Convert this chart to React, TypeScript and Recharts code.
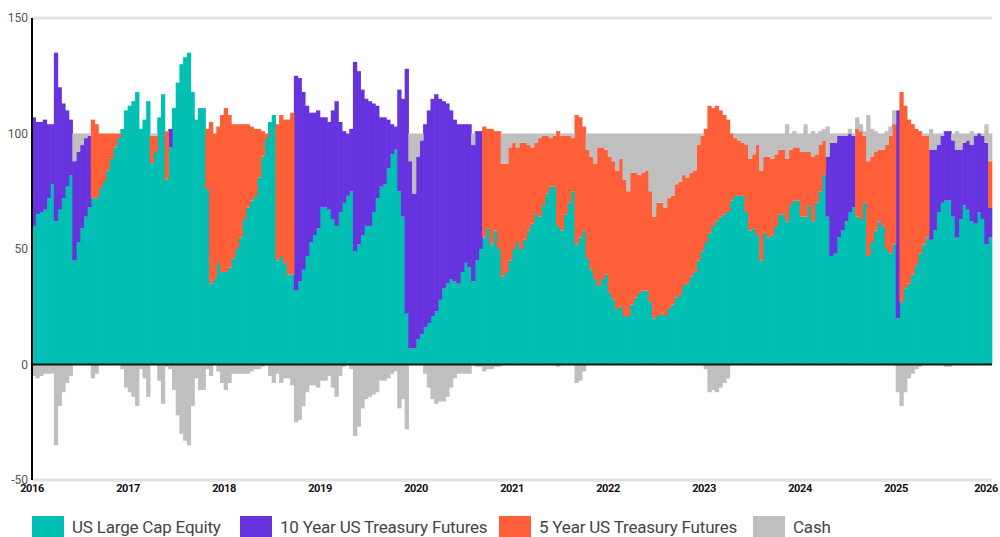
import { BarChart, Bar, XAxis, YAxis, ReferenceLine } from 'recharts'

// two-weekly allocation snapshots, 26 per year, 2016 -> 2025
const startYear = 2016
const periodsPerYear = 26

const equity = [
  60, 65, 66, 67, 72, 78, 62, 67, 72, 77, 82, 45, 53, 59, 64, 68, 72, 72, 76, 79, 84, 89, 94, 98, 102, 110, // 2016
  112, 114, 118, 102, 106, 114, 87, 92, 107, 117, 80, 94, 111, 122, 130, 133, 135, 118, 106, 111, 111, 76, 35, 37, 44, 40, // 2017
  40, 42, 46, 50, 55, 63, 68, 71, 73, 81, 90, 98, 105, 108, 45, 47, 44, 39, 39, 32, 36, 41, 47, 53, 56, 59, // 2018
  68, 68, 67, 63, 60, 66, 70, 73, 75, 49, 52, 56, 60, 60, 66, 72, 77, 78, 85, 91, 93, 75, 64, 22, 7, 7, // 2019
  11, 13, 16, 18, 21, 23, 28, 33, 35, 37, 36, 35, 40, 44, 42, 36, 45, 50, 55, 59, 52, 58, 50, 38, 40, 45, // 2020
  50, 53, 50, 54, 58, 61, 65, 64, 69, 74, 77, 77, 60, 58, 65, 70, 75, 52, 55, 58, 46, 41, 37, 34, 37, 39, // 2021
  31, 28, 24, 25, 21, 21, 26, 29, 31, 32, 32, 27, 20, 21, 22, 21, 24, 26, 29, 30, 34, 35, 38, 40, 45, 49, // 2022
  53, 57, 60, 62, 64, 65, 66, 71, 73, 73, 73, 66, 58, 59, 56, 45, 57, 55, 56, 60, 65, 65, 62, 69, 71, 71, // 2023
  64, 64, 69, 62, 70, 75, 82, 64, 47, 48, 55, 58, 62, 66, 68, 64, 63, 70, 47, 53, 58, 62, 60, 50, 48, 52, // 2024
  20, 27, 33, 35, 39, 43, 48, 52, 55, 54, 58, 66, 70, 71, 71, 64, 55, 63, 69, 67, 62, 61, 66, 63, 52, 55, // 2025
]

const tenYear = [
  47, 40, 39, 39, 32, 26, 73, 53, 41, 33, 24, 43, 39, 36, 34, 31, 0, 0, 0, 0, 0, 0, 0, 0, 0, 0,
  0, 0, 0, 0, 0, 0, 0, 0, 0, 0, 0, 8, 0, 0, 0, 0, 0, 0, 0, 0, 0, 0, 0, 0, 0, 0,
  0, 0, 0, 0, 0, 0, 0, 0, 0, 0, 0, 0, 0, 0, 0, 0, 0, 0, 0, 93, 88, 77, 65, 56, 53, 51,
  39, 39, 38, 47, 54, 39, 31, 27, 27, 82, 75, 63, 55, 54, 47, 40, 30, 29, 21, 13, 10, 44, 51, 106, 81, 67,
  79, 84, 88, 92, 94, 94, 87, 81, 78, 73, 70, 69, 64, 60, 62, 59, 56, 51, 0, 0, 0, 0, 0, 0, 0, 0,
  0, 0, 0, 0, 0, 0, 0, 0, 0, 0, 0, 0, 0, 0, 0, 0, 0, 0, 0, 0, 0, 0, 0, 0, 0, 0,
  0, 0, 0, 0, 0, 0, 0, 0, 0, 0, 0, 0, 0, 0, 0, 0, 0, 0, 0, 0, 0, 0, 0, 0, 0, 0,
  0, 0, 0, 0, 0, 0, 0, 0, 0, 0, 0, 0, 0, 0, 0, 0, 0, 0, 0, 0, 0, 0, 0, 0, 0, 0,
  0, 0, 0, 0, 0, 0, 0, 26, 49, 48, 44, 41, 37, 34, 31, 0, 0, 0, 0, 0, 0, 0, 0, 0, 0, 0,
  90, 0, 0, 0, 0, 0, 0, 0, 0, 39, 35, 29, 29, 30, 30, 33, 38, 30, 27, 30, 33, 38, 34, 36, 44, 13,
]

const fiveYear = [
  0, 0, 0, 0, 0, 0, 0, 0, 0, 0, 0, 0, 0, 0, 0, 0, 34, 32, 24, 21, 16, 11, 6, 2, 0, 0,
  0, 0, 0, 0, 0, 0, 12, 7, 0, 0, 21, 0, 0, 0, 0, 0, 0, 0, 0, 0, 0, 26, 70, 63, 59, 68,
  71, 66, 58, 54, 49, 41, 36, 32, 29, 21, 11, 2, 0, 0, 59, 61, 62, 67, 70, 0, 0, 0, 0, 0, 0, 0,
  0, 0, 0, 0, 0, 0, 0, 0, 0, 0, 0, 0, 0, 0, 0, 0, 0, 0, 0, 0, 0, 0, 0, 0, 0, 0,
  0, 0, 0, 0, 0, 0, 0, 0, 0, 0, 0, 0, 0, 0, 0, 0, 0, 0, 48, 43, 50, 43, 51, 49, 47, 49,
  46, 41, 46, 42, 37, 33, 31, 34, 30, 25, 21, 22, 41, 41, 34, 29, 23, 56, 52, 45, 47, 49, 50, 60, 57, 54,
  59, 60, 60, 64, 59, 54, 57, 54, 51, 51, 52, 48, 44, 49, 48, 47, 48, 47, 49, 49, 48, 46, 45, 44, 50, 50,
  49, 55, 51, 50, 46, 43, 40, 29, 25, 24, 23, 29, 31, 32, 39, 39, 33, 35, 33, 31, 28, 28, 27, 24, 23, 23,
  28, 28, 23, 28, 21, 20, 15, 0, 0, 0, 0, 0, 0, 0, 0, 38, 38, 29, 41, 37, 34, 31, 33, 45, 51, 52,
  0, 91, 79, 71, 65, 59, 53, 47, 44, 0, 0, 0, 0, 0, 0, 0, 0, 0, 0, 0, 0, 0, 0, 0, 0, 20,
]

const cash = [
  -5, -6, -5, -4, -4, -4, -35, -18, -12, -8, -5, 12, 8, 5, 2, 1, -6, -4, 0, 0, 0, 0, 0, 0, -2, -10,
  -12, -14, -18, -2, -6, -14, 1, 1, -7, -17, -1, -2, -11, -22, -30, -33, -35, -18, -6, -11, -11, -2, -5, 0, -3, -8,
  -11, -8, -4, -4, -4, -4, -4, -3, -2, -2, -1, 0, -5, -8, -4, -8, -6, -6, -9, -25, -24, -18, -12, -9, -9, -10,
  -7, -7, -5, -10, -14, -5, -1, 0, -2, -31, -27, -19, -15, -14, -13, -12, -7, -7, -6, -4, -3, -19, -15, -28, 12, 26,
  10, 3, -4, -10, -15, -17, -16, -16, -14, -10, -6, -4, -4, -4, -4, 5, -1, -1, -3, -2, -2, -1, -1, 13, 13, 6,
  4, 6, 4, 4, 5, 6, 4, 2, 1, 1, 2, 1, -1, 1, 1, 1, 2, -8, -7, -3, 7, 10, 13, 6, 6, 7,
  10, 12, 16, 11, 20, 25, 17, 17, 18, 17, 16, 25, 36, 30, 30, 32, 28, 27, 22, 21, 18, 19, 17, 16, 5, 1,
  -2, -12, -11, -12, -10, -8, -6, 0, 2, 3, 4, 5, 11, 9, 5, 16, 10, 10, 11, 9, 7, 7, 15, 7, 7, 6,
  8, 12, 8, 11, 9, 6, 5, 13, 4, 4, 1, 1, 1, 2, 1, 5, 3, 2, 20, 12, 9, 7, 7, 6, 4, 6,
  -12, -18, -12, -6, -4, -2, -1, 1, 1, 9, 7, 5, 1, -1, -1, 3, 8, 7, 4, 3, 6, 1, 0, 1, 8, 12,
]

const xTicks = [2016, 2017, 2018, 2019, 2020, 2021, 2022, 2023, 2024, 2025, 2026]
const yTicks = [-50, 0, 50, 100, 150]

const series = [
  { key: 'equity', name: 'US Large Cap Equity', color: '#00BFB3' },
  { key: 'tenYear', name: '10 Year US Treasury Futures', color: '#6633DF' },
  { key: 'fiveYear', name: '5 Year US Treasury Futures', color: '#FF5F38' },
  { key: 'cash', name: 'Cash', color: '#BFBFBF' },
]

// where each legend entry starts, in page pixels
const legendLeft = [32, 240, 499, 753]

const data = equity.map((e, i) => ({
  t: startYear + (i + 0.5) / periodsPerYear,
  equity: e,
  tenYear: tenYear[i],
  fiveYear: fiveYear[i],
  cash: cash[i],
}))

const font = 'Roboto, "Liberation Sans", sans-serif'

// keep the last year label inside the page, like the original
function YearTick(props: any) {
  const { x, y, payload } = props
  const cx = Math.min(x, 986)
  return (
    <text x={cx} y={y + 10} textAnchor="middle" fontSize={11} fontWeight={700} fill="#111"
      fontFamily={font} letterSpacing={-0.4}>
      {payload.value}
    </text>
  )
}

// bars come out a pixel narrower than the two-week step, so widen them to close the seams
function Slab(props: any) {
  const { x, y, width, height, fill } = props
  if (!height || !width) return null
  const top = height < 0 ? y + height : y
  return <rect x={x - 0.3} y={top} width={width + 1} height={Math.abs(height)} fill={fill} />
}

export default function App() {
  return (
    <div style={{ position: 'absolute', left: 0, top: 0, width: 1000, height: 537, background: '#fff', overflow: 'hidden', fontFamily: font }}>
      <BarChart
        width={1000}
        height={500}
        data={data}
        stackOffset="sign"
        barCategoryGap={0}
        margin={{ top: 18, right: 8, bottom: 0, left: 0 }}
      >
        <XAxis
          type="number"
          dataKey="t"
          domain={[2016, 2026]}
          ticks={xTicks}
          interval={0}
          height={20}
          tickLine={false}
          tickSize={0}
          axisLine={{ stroke: '#e2e2e2', strokeWidth: 3 }}
          tick={<YearTick />}
        />
        <YAxis
          type="number"
          domain={[-50, 150]}
          ticks={yTicks}
          interval={0}
          width={32}
          tickLine={false}
          tickSize={2}
          axisLine={{ stroke: '#000', strokeWidth: 2 }}
          tick={{ fontSize: 12, fill: '#555', fontFamily: font }}
        />
        <ReferenceLine y={150} stroke="#e2e2e2" strokeWidth={3} />
        {series.map(s => (
          <Bar
            key={s.key}
            dataKey={s.key}
            name={s.name}
            stackId="alloc"
            fill={s.color}
            barSize={4}
            shape={<Slab />}
            isAnimationActive={false}
          />
        ))}
        <ReferenceLine y={0} stroke="#111" strokeWidth={2} />
      </BarChart>

      {series.map((s, i) => (
        <div key={s.key} style={{ position: 'absolute', left: legendLeft[i], top: 516, display: 'flex', alignItems: 'center' }}>
          <div style={{ width: 32, height: 22, background: s.color, marginRight: 8 }} />
          <span style={{ fontSize: 17, color: '#444', lineHeight: '22px', whiteSpace: 'nowrap', letterSpacing: -0.2 }}>{s.name}</span>
        </div>
      ))}
    </div>
  )
}
